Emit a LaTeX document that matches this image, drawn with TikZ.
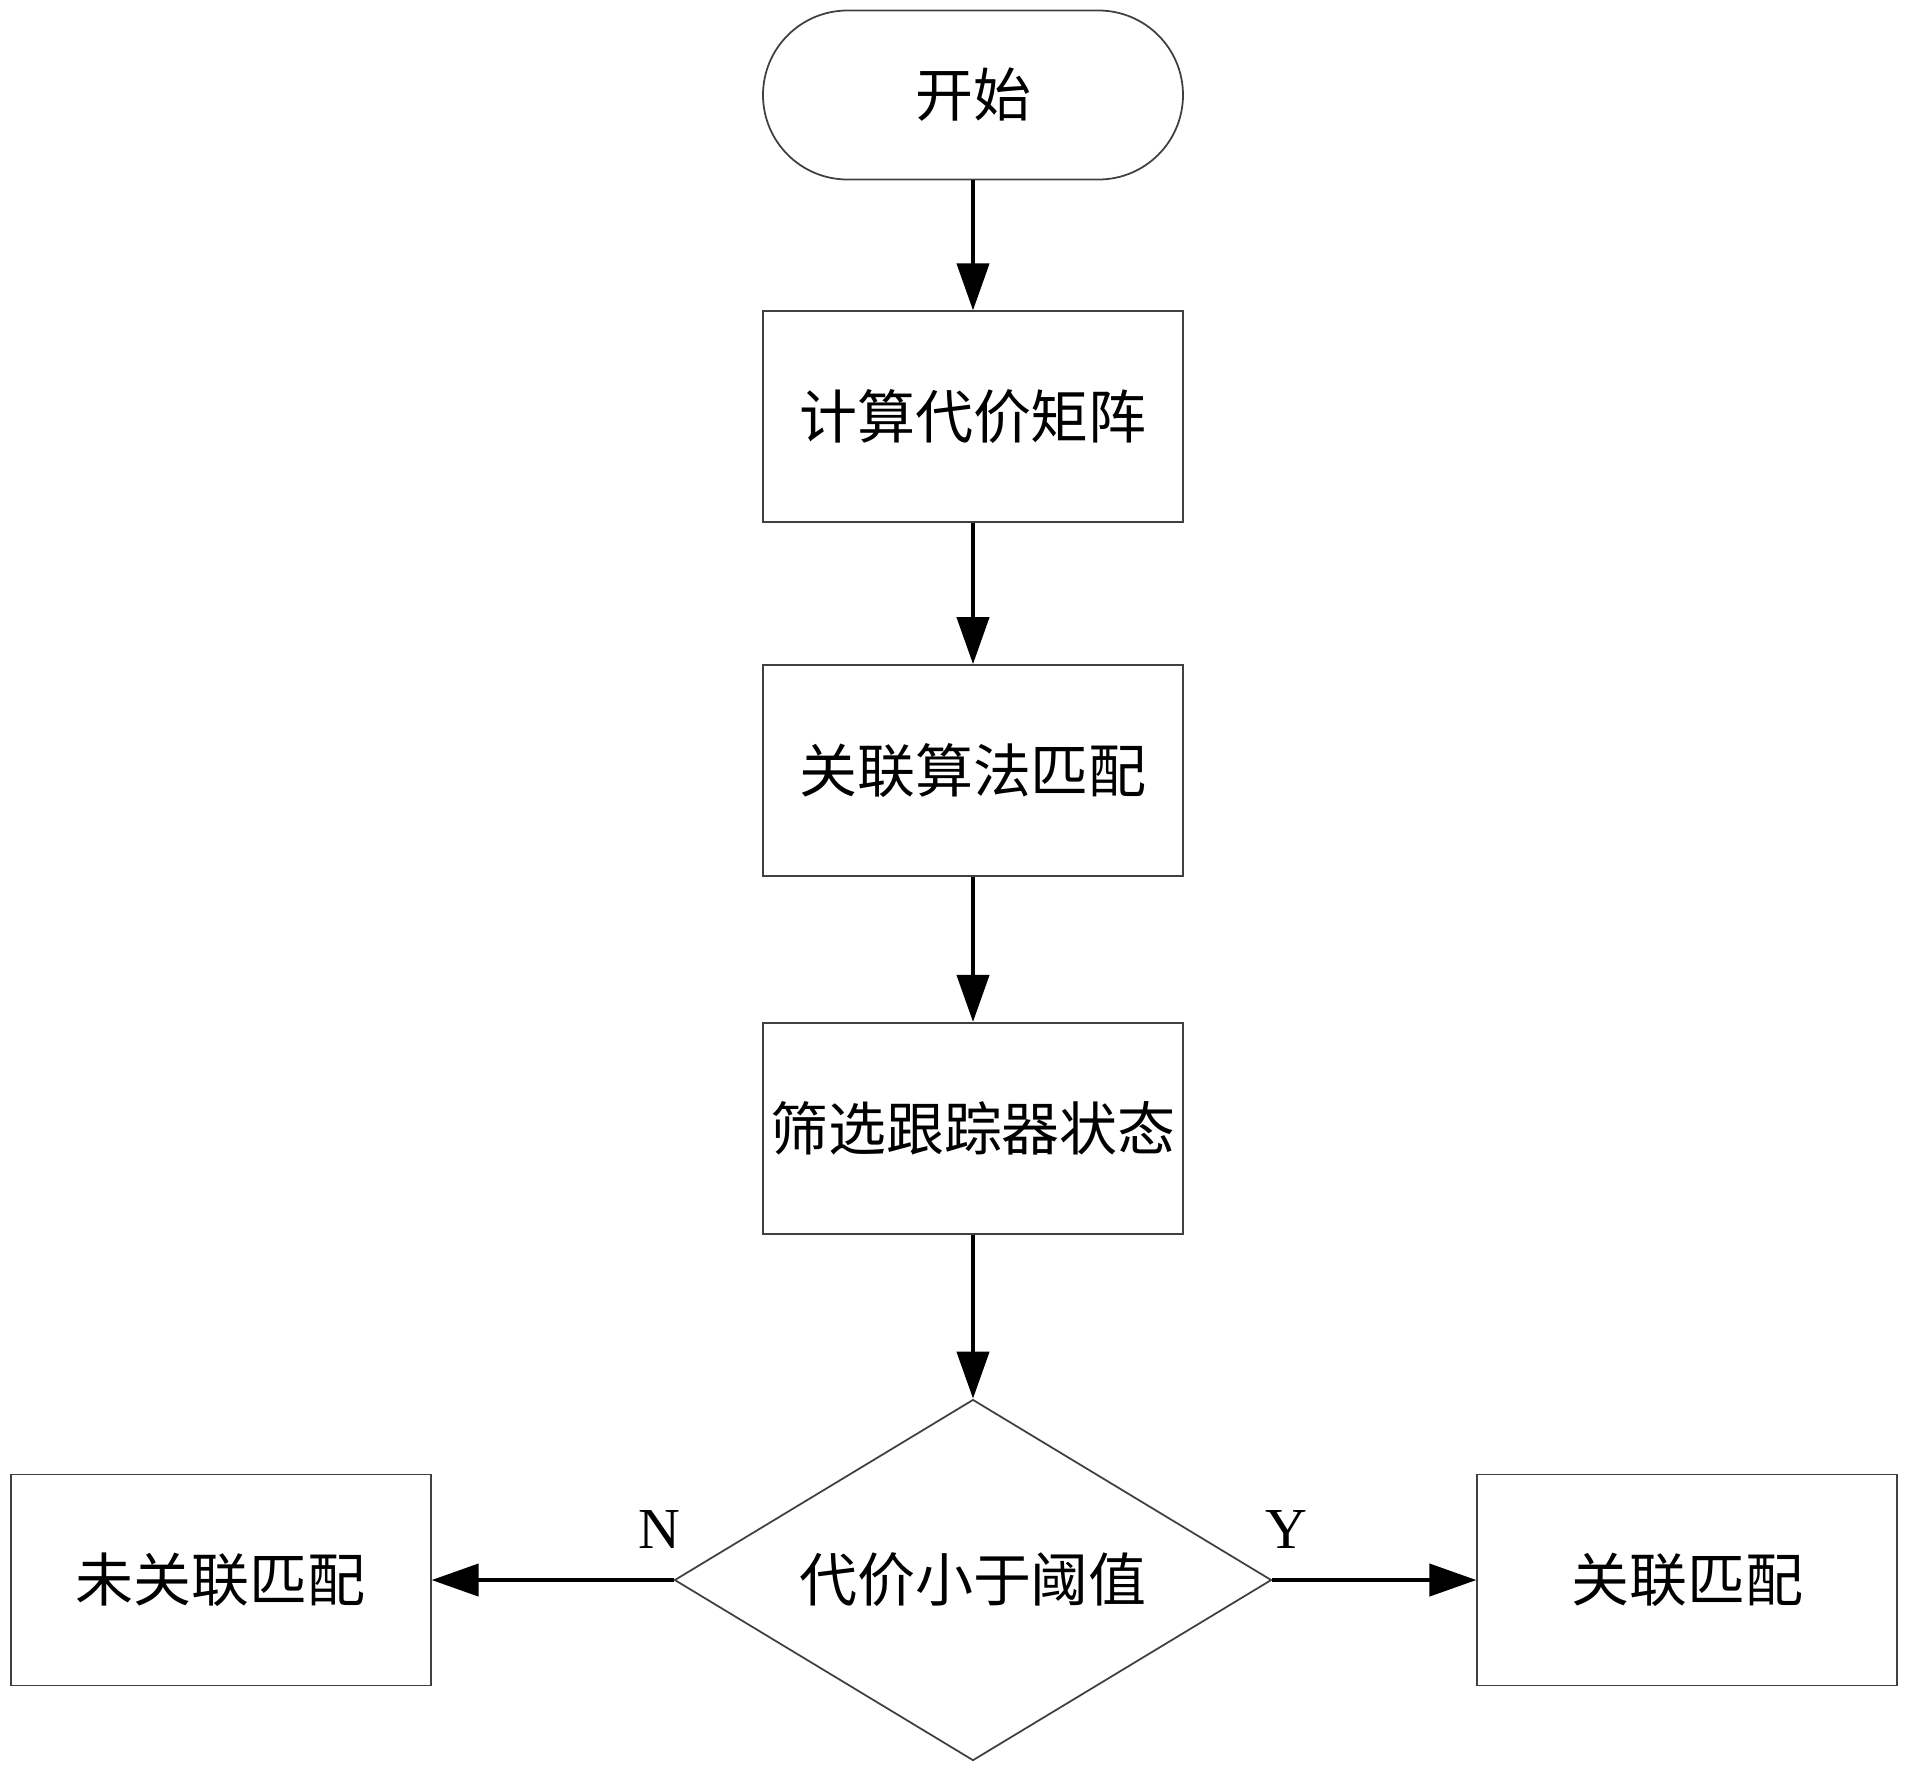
\documentclass[tikz,border=0pt]{standalone}
\usepackage{fontspec}
\setmainfont{Liberation Serif}
\newfontfamily\cjk{Noto Sans CJK SC}
\usetikzlibrary{shapes.geometric,arrows.meta,positioning}
\tikzset{
  process/.style={rectangle,draw=black!75,line width=0.5pt,minimum width=4.2cm,minimum height=2.11cm,inner sep=0pt,align=center,font=\cjk\fontsize{16.5}{20}\selectfont},
  startend/.style={rectangle,rounded corners=0.845cm,draw=black!75,line width=0.5pt,minimum width=4.2cm,minimum height=1.69cm,inner sep=0pt,align=center,font=\cjk\fontsize{16.5}{20}\selectfont},
  decision/.style={diamond,aspect=1.65,draw=black!75,line width=0.5pt,minimum width=5.97cm,minimum height=3.61cm,inner sep=0pt,align=center,font=\cjk\fontsize{16.5}{20}\selectfont},
  arrow/.style={-{Triangle[length=4.7mm,width=3.2mm]},line width=1.2pt},
  yesno/.style={inner sep=0pt,anchor=south,font=\fontsize{16.5}{20}\selectfont},
}
\begin{document}
\begin{tikzpicture}
  \useasboundingbox (0,0) rectangle (19.13,-17.72);
  % main column
  \node[startend] (start) at (9.73,-0.95) {开始};
  \node[process, below=1.30cm of start] (cost) {计算代价矩阵};
  \node[process, below=1.41cm of cost] (match) {关联算法匹配};
  \node[process, below=1.45cm of match] (filter) {筛选跟踪器状态};
  \node[decision, below=1.64cm of filter] (thresh) {代价小于阈值};

  % branches
  \node[process, left=2.42cm of thresh] (unmatched) {未关联匹配};
  \node[process, right=2.04cm of thresh] (matched) {关联匹配};

  % arrows
  \draw[arrow] (start) -- (cost);
  \draw[arrow] (cost) -- (match);
  \draw[arrow] (match) -- (filter);
  \draw[arrow] (filter) -- (thresh);
  \draw[arrow] (thresh) -- node[yesno, pos=0.06, above=0.29cm]{N} (unmatched);
  \draw[arrow] (thresh) -- node[yesno, pos=0.07, above=0.29cm]{Y} (matched);
\end{tikzpicture}
\end{document}
